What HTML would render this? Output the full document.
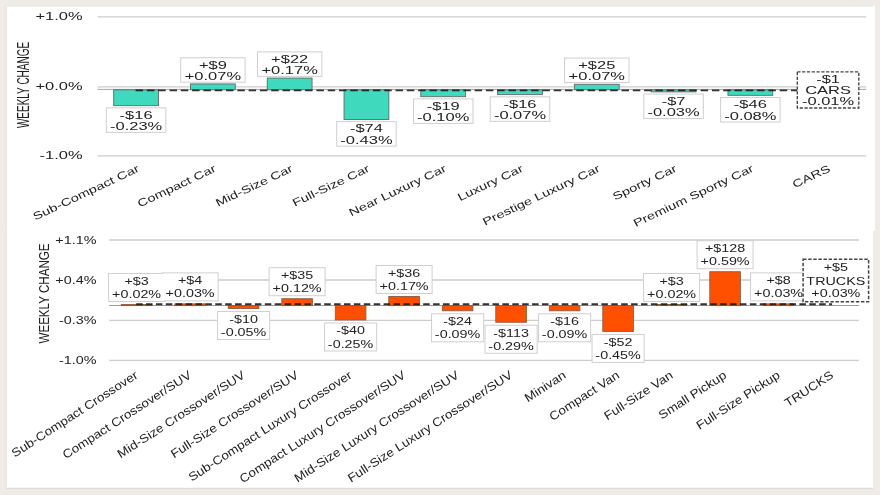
<!DOCTYPE html>
<html><head><meta charset="utf-8"><title>Weekly Change</title>
<style>
html,body{margin:0;padding:0;background:#efebe6;}
body{width:880px;height:495px;overflow:hidden;font-family:"Liberation Sans", sans-serif;}
svg{display:block;font-family:"Liberation Sans", sans-serif;filter:blur(0.35px);}
</style></head><body>
<svg width="880" height="495" viewBox="0 0 880 495">
<rect x="0" y="0" width="880" height="495" fill="#efebe6"/>
<rect x="6.1" y="5.9" width="869" height="225" fill="#fff"/>
<rect x="6.1" y="229" width="866.9" height="259.6" fill="#fff"/>
<path d="M6.4 488.3V6.2H873" fill="none" stroke="#dedede" stroke-width="0.7"/>
<path d="M6.4 488.3H873" fill="none" stroke="#d2d2d2" stroke-width="0.9"/>

<line x1="97.5" x2="866.3" y1="16.9" y2="16.9" stroke="#cdcdcd" stroke-width="1.2"/>
<line x1="97.5" x2="866.3" y1="86.9" y2="86.9" stroke="#cdcdcd" stroke-width="1.2"/>
<line x1="97.5" x2="866.3" y1="155.8" y2="155.8" stroke="#cdcdcd" stroke-width="1.2"/>
<text transform="translate(82.60,20.40) scale(1.6,1)" font-size="10.3" text-anchor="end" fill="#222">+1.0%</text>
<text transform="translate(82.60,90.40) scale(1.6,1)" font-size="10.3" text-anchor="end" fill="#222">+0.0%</text>
<text transform="translate(82.60,159.30) scale(1.6,1)" font-size="10.3" text-anchor="end" fill="#222">-1.0%</text>
<text transform="translate(29.3,85) rotate(-90) scale(1,1.73)" font-size="10.0" text-anchor="middle" fill="#222">WEEKLY CHANGE</text>
<line x1="97.5" x2="866.3" y1="89.4" y2="89.4" stroke="#9c9c9c" stroke-width="0.9"/>
<rect x="113.70" y="89.80" width="44.8" height="15.87" fill="#3fd9be" stroke="#666" stroke-width="0.9"/>
<rect x="190.48" y="83.94" width="44.8" height="5.87" fill="#3fd9be" stroke="#666" stroke-width="0.9"/>
<rect x="267.26" y="78.07" width="44.8" height="11.73" fill="#3fd9be" stroke="#666" stroke-width="0.9"/>
<rect x="344.04" y="89.80" width="44.8" height="29.67" fill="#3fd9be" stroke="#666" stroke-width="0.9"/>
<rect x="420.82" y="89.80" width="44.8" height="6.90" fill="#3fd9be" stroke="#666" stroke-width="0.9"/>
<rect x="497.60" y="89.80" width="44.8" height="4.83" fill="#3fd9be" stroke="#666" stroke-width="0.9"/>
<rect x="574.38" y="84.28" width="44.8" height="5.52" fill="#3fd9be" stroke="#666" stroke-width="0.9"/>
<rect x="651.16" y="89.80" width="44.8" height="2.07" fill="#3fd9be" stroke="#666" stroke-width="0.9"/>
<rect x="727.94" y="89.80" width="44.8" height="5.52" fill="#3fd9be" stroke="#666" stroke-width="0.9"/>
<line x1="135.6" x2="827.1" y1="90.3" y2="90.3" stroke="#1c1c1c" stroke-width="1.7" stroke-dasharray="7.5 3.8" stroke-opacity="0.9"/>
<rect x="105.85" y="107.37" width="60.5" height="25.5" fill="#cfcfcf"/>
<rect x="180.18" y="57.23" width="65.4" height="25.5" fill="#cfcfcf"/>
<rect x="256.96" y="51.37" width="65.4" height="25.5" fill="#cfcfcf"/>
<rect x="336.19" y="121.17" width="60.5" height="25.5" fill="#cfcfcf"/>
<rect x="412.97" y="98.40" width="60.5" height="25.5" fill="#cfcfcf"/>
<rect x="489.75" y="96.33" width="60.5" height="25.5" fill="#cfcfcf"/>
<rect x="564.08" y="57.58" width="65.4" height="25.5" fill="#cfcfcf"/>
<rect x="643.31" y="93.57" width="60.5" height="25.5" fill="#cfcfcf"/>
<rect x="720.09" y="97.02" width="60.5" height="25.5" fill="#cfcfcf"/>
<rect x="106.85" y="108.37" width="58.5" height="23.5" fill="#fff"/>
<rect x="181.18" y="58.23" width="63.400000000000006" height="23.5" fill="#fff"/>
<rect x="257.96" y="52.37" width="63.400000000000006" height="23.5" fill="#fff"/>
<rect x="337.19" y="122.17" width="58.5" height="23.5" fill="#fff"/>
<rect x="413.97" y="99.40" width="58.5" height="23.5" fill="#fff"/>
<rect x="490.75" y="97.33" width="58.5" height="23.5" fill="#fff"/>
<rect x="565.08" y="58.58" width="63.400000000000006" height="23.5" fill="#fff"/>
<rect x="644.31" y="94.57" width="58.5" height="23.5" fill="#fff"/>
<rect x="721.09" y="98.02" width="58.5" height="23.5" fill="#fff"/>
<text transform="translate(136.10,118.67) scale(1.6,1)" font-size="10.3" text-anchor="middle" fill="#222">-$16</text>
<text transform="translate(136.10,129.87) scale(1.6,1)" font-size="10.3" text-anchor="middle" fill="#222">-0.23%</text>
<text transform="translate(212.88,68.53) scale(1.6,1)" font-size="10.3" text-anchor="middle" fill="#222">+$9</text>
<text transform="translate(212.88,79.73) scale(1.6,1)" font-size="10.3" text-anchor="middle" fill="#222">+0.07%</text>
<text transform="translate(289.66,62.67) scale(1.6,1)" font-size="10.3" text-anchor="middle" fill="#222">+$22</text>
<text transform="translate(289.66,73.87) scale(1.6,1)" font-size="10.3" text-anchor="middle" fill="#222">+0.17%</text>
<text transform="translate(366.44,132.47) scale(1.6,1)" font-size="10.3" text-anchor="middle" fill="#222">-$74</text>
<text transform="translate(366.44,143.67) scale(1.6,1)" font-size="10.3" text-anchor="middle" fill="#222">-0.43%</text>
<text transform="translate(443.22,109.70) scale(1.6,1)" font-size="10.3" text-anchor="middle" fill="#222">-$19</text>
<text transform="translate(443.22,120.90) scale(1.6,1)" font-size="10.3" text-anchor="middle" fill="#222">-0.10%</text>
<text transform="translate(520.00,107.63) scale(1.6,1)" font-size="10.3" text-anchor="middle" fill="#222">-$16</text>
<text transform="translate(520.00,118.83) scale(1.6,1)" font-size="10.3" text-anchor="middle" fill="#222">-0.07%</text>
<text transform="translate(596.78,68.88) scale(1.6,1)" font-size="10.3" text-anchor="middle" fill="#222">+$25</text>
<text transform="translate(596.78,80.08) scale(1.6,1)" font-size="10.3" text-anchor="middle" fill="#222">+0.07%</text>
<text transform="translate(673.56,104.87) scale(1.6,1)" font-size="10.3" text-anchor="middle" fill="#222">-$7</text>
<text transform="translate(673.56,116.07) scale(1.6,1)" font-size="10.3" text-anchor="middle" fill="#222">-0.03%</text>
<text transform="translate(750.34,108.32) scale(1.6,1)" font-size="10.3" text-anchor="middle" fill="#222">-$46</text>
<text transform="translate(750.34,119.52) scale(1.6,1)" font-size="10.3" text-anchor="middle" fill="#222">-0.08%</text>
<rect x="797.3" y="71.8" width="61.5" height="36.2" fill="#fff" stroke="#444" stroke-width="1.35" stroke-dasharray="3.2 1.6"/>
<text transform="translate(828.05,83.00) scale(1.6,1)" font-size="10.3" text-anchor="middle" fill="#222">-$1</text>
<text transform="translate(828.05,93.60) scale(1.6,1)" font-size="10.3" text-anchor="middle" fill="#222">CARS</text>
<text transform="translate(828.05,105.00) scale(1.6,1)" font-size="10.3" text-anchor="middle" fill="#222">-0.01%</text>
<text transform="matrix(1.3109,-0.6197,0.507,0.9536,140.10,171.0)" font-size="10" text-anchor="end" fill="#222">Sub-Compact Car</text>
<text transform="matrix(1.3109,-0.6197,0.507,0.9536,216.88,171.0)" font-size="10" text-anchor="end" fill="#222">Compact Car</text>
<text transform="matrix(1.3109,-0.6197,0.507,0.9536,293.66,171.0)" font-size="10" text-anchor="end" fill="#222">Mid-Size Car</text>
<text transform="matrix(1.3109,-0.6197,0.507,0.9536,370.44,171.0)" font-size="10" text-anchor="end" fill="#222">Full-Size Car</text>
<text transform="matrix(1.3109,-0.6197,0.507,0.9536,447.22,171.0)" font-size="10" text-anchor="end" fill="#222">Near Luxury Car</text>
<text transform="matrix(1.3109,-0.6197,0.507,0.9536,524.00,171.0)" font-size="10" text-anchor="end" fill="#222">Luxury Car</text>
<text transform="matrix(1.3109,-0.6197,0.507,0.9536,600.78,171.0)" font-size="10" text-anchor="end" fill="#222">Prestige Luxury Car</text>
<text transform="matrix(1.3109,-0.6197,0.507,0.9536,677.56,171.0)" font-size="10" text-anchor="end" fill="#222">Sporty Car</text>
<text transform="matrix(1.3109,-0.6197,0.507,0.9536,754.34,171.0)" font-size="10" text-anchor="end" fill="#222">Premium Sporty Car</text>
<text transform="matrix(1.3109,-0.6197,0.507,0.9536,831.12,171.0)" font-size="10" text-anchor="end" fill="#222">CARS</text>
<line x1="109.2" x2="859.0" y1="240.0" y2="240.0" stroke="#cdcdcd" stroke-width="1.3"/>
<line x1="109.2" x2="859.0" y1="280.0" y2="280.0" stroke="#cdcdcd" stroke-width="1.3"/>
<line x1="109.2" x2="859.0" y1="320.3" y2="320.3" stroke="#cdcdcd" stroke-width="1.3"/>
<line x1="109.2" x2="859.0" y1="360.4" y2="360.4" stroke="#cdcdcd" stroke-width="1.3"/>
<text transform="translate(96.40,243.60) scale(1.27,1)" font-size="11.3" text-anchor="end" fill="#222">+1.1%</text>
<text transform="translate(96.40,283.60) scale(1.27,1)" font-size="11.3" text-anchor="end" fill="#222">+0.4%</text>
<text transform="translate(96.40,323.90) scale(1.27,1)" font-size="11.3" text-anchor="end" fill="#222">-0.3%</text>
<text transform="translate(96.40,364.00) scale(1.27,1)" font-size="11.3" text-anchor="end" fill="#222">-1.0%</text>
<text transform="translate(48.8,293.5) rotate(-90) scale(1,1.27)" font-size="11.6" text-anchor="middle" fill="#222">WEEKLY CHANGE</text>
<line x1="109.2" x2="859.0" y1="305.5" y2="305.5" stroke="#9c9c9c" stroke-width="1.0"/>
<rect x="121.30" y="304.45" width="30.6" height="1.15" fill="#ff5000" stroke="#8a5a44" stroke-width="0.9"/>
<rect x="174.80" y="303.88" width="30.6" height="1.72" fill="#ff5000" stroke="#8a5a44" stroke-width="0.9"/>
<rect x="228.30" y="305.60" width="30.6" height="2.87" fill="#ff5000" stroke="#8a5a44" stroke-width="0.9"/>
<rect x="281.80" y="298.71" width="30.6" height="6.89" fill="#ff5000" stroke="#8a5a44" stroke-width="0.9"/>
<rect x="335.30" y="305.60" width="30.6" height="14.35" fill="#ff5000" stroke="#8a5a44" stroke-width="0.9"/>
<rect x="388.80" y="296.53" width="30.6" height="9.07" fill="#ff5000" stroke="#8a5a44" stroke-width="0.9"/>
<rect x="442.30" y="305.60" width="30.6" height="5.17" fill="#ff5000" stroke="#8a5a44" stroke-width="0.9"/>
<rect x="495.80" y="305.60" width="30.6" height="16.65" fill="#ff5000" stroke="#8a5a44" stroke-width="0.9"/>
<rect x="549.30" y="305.60" width="30.6" height="5.17" fill="#ff5000" stroke="#8a5a44" stroke-width="0.9"/>
<rect x="602.80" y="305.60" width="30.6" height="25.83" fill="#ff5000" stroke="#8a5a44" stroke-width="0.9"/>
<rect x="656.30" y="304.45" width="30.6" height="1.15" fill="#ff5000" stroke="#8a5a44" stroke-width="0.9"/>
<rect x="709.80" y="271.73" width="30.6" height="33.87" fill="#ff5000" stroke="#8a5a44" stroke-width="0.9"/>
<rect x="763.30" y="303.88" width="30.6" height="1.72" fill="#ff5000" stroke="#8a5a44" stroke-width="0.9"/>
<line x1="136.1" x2="832.1" y1="304.2" y2="304.2" stroke="#1c1c1c" stroke-width="1.9" stroke-dasharray="6.5 3.4" stroke-opacity="0.9"/>
<rect x="108.10" y="272.95" width="57.0" height="29" fill="#cfcfcf"/>
<rect x="161.60" y="272.38" width="57.0" height="29" fill="#cfcfcf"/>
<rect x="217.05" y="310.97" width="53.1" height="29" fill="#cfcfcf"/>
<rect x="268.60" y="267.21" width="57.0" height="29" fill="#cfcfcf"/>
<rect x="324.05" y="322.45" width="53.1" height="29" fill="#cfcfcf"/>
<rect x="375.60" y="265.03" width="57.0" height="29" fill="#cfcfcf"/>
<rect x="431.05" y="313.27" width="53.1" height="29" fill="#cfcfcf"/>
<rect x="484.55" y="324.75" width="53.1" height="29" fill="#cfcfcf"/>
<rect x="538.05" y="313.27" width="53.1" height="29" fill="#cfcfcf"/>
<rect x="591.55" y="333.93" width="53.1" height="29" fill="#cfcfcf"/>
<rect x="643.10" y="272.95" width="57.0" height="29" fill="#cfcfcf"/>
<rect x="696.60" y="240.23" width="57.0" height="29" fill="#cfcfcf"/>
<rect x="750.10" y="272.38" width="57.0" height="29" fill="#cfcfcf"/>
<rect x="109.10" y="273.95" width="55.0" height="27" fill="#fff"/>
<rect x="162.60" y="273.38" width="55.0" height="27" fill="#fff"/>
<rect x="218.05" y="311.97" width="51.1" height="27" fill="#fff"/>
<rect x="269.60" y="268.21" width="55.0" height="27" fill="#fff"/>
<rect x="325.05" y="323.45" width="51.1" height="27" fill="#fff"/>
<rect x="376.60" y="266.03" width="55.0" height="27" fill="#fff"/>
<rect x="432.05" y="314.27" width="51.1" height="27" fill="#fff"/>
<rect x="485.55" y="325.75" width="51.1" height="27" fill="#fff"/>
<rect x="539.05" y="314.27" width="51.1" height="27" fill="#fff"/>
<rect x="592.55" y="334.93" width="51.1" height="27" fill="#fff"/>
<rect x="644.10" y="273.95" width="55.0" height="27" fill="#fff"/>
<rect x="697.60" y="241.23" width="55.0" height="27" fill="#fff"/>
<rect x="751.10" y="273.38" width="55.0" height="27" fill="#fff"/>
<text transform="translate(136.60,284.85) scale(1.27,1)" font-size="11.3" text-anchor="middle" fill="#222">+$3</text>
<text transform="translate(136.60,298.05) scale(1.27,1)" font-size="11.3" text-anchor="middle" fill="#222">+0.02%</text>
<text transform="translate(190.10,284.28) scale(1.27,1)" font-size="11.3" text-anchor="middle" fill="#222">+$4</text>
<text transform="translate(190.10,297.48) scale(1.27,1)" font-size="11.3" text-anchor="middle" fill="#222">+0.03%</text>
<text transform="translate(243.60,322.87) scale(1.27,1)" font-size="11.3" text-anchor="middle" fill="#222">-$10</text>
<text transform="translate(243.60,336.07) scale(1.27,1)" font-size="11.3" text-anchor="middle" fill="#222">-0.05%</text>
<text transform="translate(297.10,279.11) scale(1.27,1)" font-size="11.3" text-anchor="middle" fill="#222">+$35</text>
<text transform="translate(297.10,292.31) scale(1.27,1)" font-size="11.3" text-anchor="middle" fill="#222">+0.12%</text>
<text transform="translate(350.60,334.35) scale(1.27,1)" font-size="11.3" text-anchor="middle" fill="#222">-$40</text>
<text transform="translate(350.60,347.55) scale(1.27,1)" font-size="11.3" text-anchor="middle" fill="#222">-0.25%</text>
<text transform="translate(404.10,276.93) scale(1.27,1)" font-size="11.3" text-anchor="middle" fill="#222">+$36</text>
<text transform="translate(404.10,290.13) scale(1.27,1)" font-size="11.3" text-anchor="middle" fill="#222">+0.17%</text>
<text transform="translate(457.60,325.17) scale(1.27,1)" font-size="11.3" text-anchor="middle" fill="#222">-$24</text>
<text transform="translate(457.60,338.37) scale(1.27,1)" font-size="11.3" text-anchor="middle" fill="#222">-0.09%</text>
<text transform="translate(511.10,336.65) scale(1.27,1)" font-size="11.3" text-anchor="middle" fill="#222">-$113</text>
<text transform="translate(511.10,349.85) scale(1.27,1)" font-size="11.3" text-anchor="middle" fill="#222">-0.29%</text>
<text transform="translate(564.60,325.17) scale(1.27,1)" font-size="11.3" text-anchor="middle" fill="#222">-$16</text>
<text transform="translate(564.60,338.37) scale(1.27,1)" font-size="11.3" text-anchor="middle" fill="#222">-0.09%</text>
<text transform="translate(618.10,345.83) scale(1.27,1)" font-size="11.3" text-anchor="middle" fill="#222">-$52</text>
<text transform="translate(618.10,359.03) scale(1.27,1)" font-size="11.3" text-anchor="middle" fill="#222">-0.45%</text>
<text transform="translate(671.60,284.85) scale(1.27,1)" font-size="11.3" text-anchor="middle" fill="#222">+$3</text>
<text transform="translate(671.60,298.05) scale(1.27,1)" font-size="11.3" text-anchor="middle" fill="#222">+0.02%</text>
<text transform="translate(725.10,252.13) scale(1.27,1)" font-size="11.3" text-anchor="middle" fill="#222">+$128</text>
<text transform="translate(725.10,265.33) scale(1.27,1)" font-size="11.3" text-anchor="middle" fill="#222">+0.59%</text>
<text transform="translate(778.60,284.28) scale(1.27,1)" font-size="11.3" text-anchor="middle" fill="#222">+$8</text>
<text transform="translate(778.60,297.48) scale(1.27,1)" font-size="11.3" text-anchor="middle" fill="#222">+0.03%</text>
<rect x="803.1" y="259.3" width="65.5" height="42.5" fill="#fff" stroke="#444" stroke-width="1.5" stroke-dasharray="3.4 1.7"/>
<text transform="translate(835.85,271.10) scale(1.27,1)" font-size="11.3" text-anchor="middle" fill="#222">+$5</text>
<text transform="translate(835.85,284.50) scale(1.27,1)" font-size="11.3" text-anchor="middle" fill="#222">TRUCKS</text>
<text transform="translate(835.85,297.30) scale(1.27,1)" font-size="11.3" text-anchor="middle" fill="#222">+0.03%</text>
<text transform="matrix(1.1339,-0.7364,0.6359,1.0177,138.80,377.2)" font-size="10" text-anchor="end" fill="#222">Sub-Compact Crossover</text>
<text transform="matrix(1.1339,-0.7364,0.6359,1.0177,192.30,377.2)" font-size="10" text-anchor="end" fill="#222">Compact Crossover/SUV</text>
<text transform="matrix(1.1339,-0.7364,0.6359,1.0177,245.80,377.2)" font-size="10" text-anchor="end" fill="#222">Mid-Size Crossover/SUV</text>
<text transform="matrix(1.1339,-0.7364,0.6359,1.0177,299.30,377.2)" font-size="10" text-anchor="end" fill="#222">Full-Size Crossover/SUV</text>
<text transform="matrix(1.1339,-0.7364,0.6359,1.0177,352.80,377.2)" font-size="10" text-anchor="end" fill="#222">Sub-Compact Luxury Crossover</text>
<text transform="matrix(1.1339,-0.7364,0.6359,1.0177,406.30,377.2)" font-size="10" text-anchor="end" fill="#222">Compact Luxury Crossover/SUV</text>
<text transform="matrix(1.1339,-0.7364,0.6359,1.0177,459.80,377.2)" font-size="10" text-anchor="end" fill="#222">Mid-Size Luxury Crossover/SUV</text>
<text transform="matrix(1.1339,-0.7364,0.6359,1.0177,513.30,377.2)" font-size="10" text-anchor="end" fill="#222">Full-Size Luxury Crossover/SUV</text>
<text transform="matrix(1.1339,-0.7364,0.6359,1.0177,566.80,377.2)" font-size="10" text-anchor="end" fill="#222">Minivan</text>
<text transform="matrix(1.1339,-0.7364,0.6359,1.0177,620.30,377.2)" font-size="10" text-anchor="end" fill="#222">Compact Van</text>
<text transform="matrix(1.1339,-0.7364,0.6359,1.0177,673.80,377.2)" font-size="10" text-anchor="end" fill="#222">Full-Size Van</text>
<text transform="matrix(1.1339,-0.7364,0.6359,1.0177,727.30,377.2)" font-size="10" text-anchor="end" fill="#222">Small Pickup</text>
<text transform="matrix(1.1339,-0.7364,0.6359,1.0177,780.80,377.2)" font-size="10" text-anchor="end" fill="#222">Full-Size Pickup</text>
<text transform="matrix(1.1339,-0.7364,0.6359,1.0177,834.30,377.2)" font-size="10" text-anchor="end" fill="#222">TRUCKS</text>
</svg></body></html>
